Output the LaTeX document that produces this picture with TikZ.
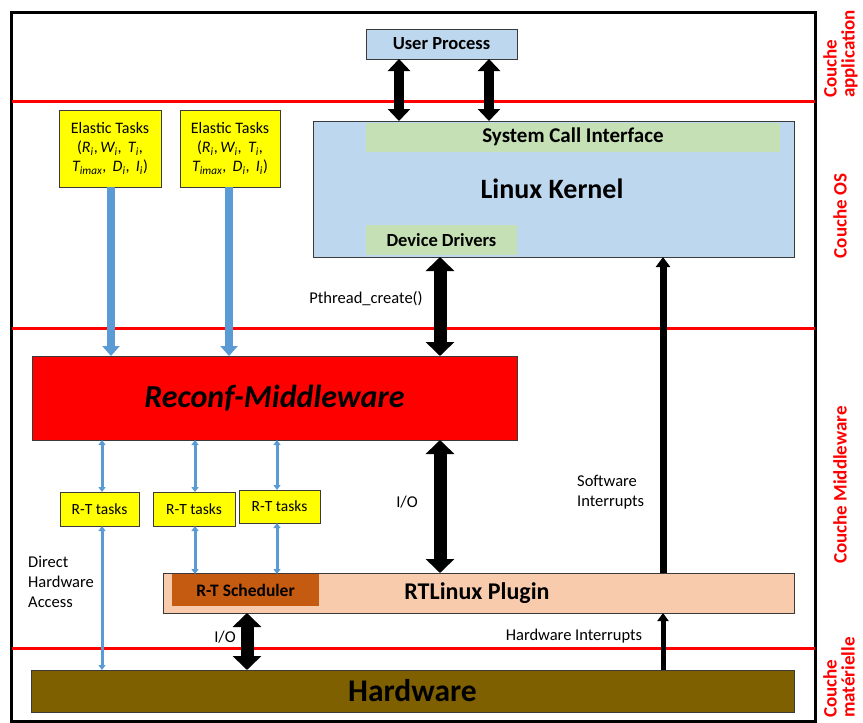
\documentclass[tikz,border=0pt]{standalone}
\usepackage{fontspec}
\setmainfont{Carlito}
\usetikzlibrary{arrows.meta}
\definecolor{lblue}{HTML}{BDD7EE}
\definecolor{lgreen}{HTML}{C5E0B4}
\definecolor{yel}{HTML}{FFFF00}
\definecolor{peach}{HTML}{F8CBAD}
\definecolor{rbrown}{HTML}{C55A11}
\definecolor{hwcol}{HTML}{7F6000}
\definecolor{barrow}{HTML}{5B9BD5}
\definecolor{bord}{HTML}{3A3A3A}
\tikzset{
  box/.style={draw=bord, line width=1pt, inner sep=0pt, outer sep=0pt, align=center},
  band/.style={inner sep=0pt, outer sep=0pt, align=center},
  fs/.style={font=\fontsize{#1}{#1}\selectfont},
  fsb/.style={font=\fontsize{#1}{#1}\selectfont\bfseries},
  bigarrow/.style={line width=10pt, {Triangle[width=22pt,length=12pt]}-{Triangle[width=22pt,length=12pt]}},
  hugearrow/.style={line width=13pt, {Triangle[width=28pt,length=14pt]}-{Triangle[width=28pt,length=14pt]}},
  bluethick/.style={barrow, line width=8pt, -{Triangle[width=17pt,length=10pt]}},
  bluethin/.style={barrow, line width=3pt, {Triangle[width=7pt,length=5pt]}-{Triangle[width=7pt,length=5pt]}},
  layerline/.style={red, line width=3pt},
  layerlab/.style={text=red, rotate=90, align=left, inner sep=0pt, font=\fontsize{19}{18}\selectfont\bfseries},
  lab/.style={inner sep=0pt, font=\fontsize{16.5}{20}\selectfont}
}
\begin{document}
\begin{tikzpicture}[x=1pt,y=-1pt]
\useasboundingbox (0,0) rectangle (863,723);
% frame
\draw[line width=3pt] (11,12) rectangle (815,721);
% layer lines
\draw[layerline] (12,101) -- (815,101);
\draw[layerline] (12,328) -- (815,328);
\draw[layerline] (12,648) -- (815,648);
% layer labels
\node[layerlab, anchor=north west] (lapp) at (823,98) {Couche\\application};
\node[layerlab] (los) at (840,216) {Couche OS};
\node[layerlab] (lmid) at (840,485) {Couche Middleware};
\node[layerlab, anchor=north west] (lmat) at (823,718) {Couche\\matérielle};
% boxes
\node[box, fill=lblue, minimum width=151pt, minimum height=30pt, fsb=18.5] (up) at (441.5,44) {User Process};
\node[box, fill=lblue, minimum width=481pt, minimum height=136pt] (lk) at (553.5,189) {};
\node[band, fill=lgreen, minimum width=414pt, minimum height=29pt, fsb=21] (sci) at (573,137) {System Call Interface};
\node[band, fsb=28] (lkt) at (552,189) {Linux Kernel};
\node[band, fill=lgreen, minimum width=151pt, minimum height=30pt, fsb=18.5] (dd) at (441.5,240) {Device Drivers};
\node[box, fill=yel, minimum width=102pt, minimum height=77pt, font=\fontsize{16}{19}\selectfont] (et1) at (110,148.5)
  {Elastic Tasks\\(\textit{R\textsubscript{i}},\,\textit{W\textsubscript{i}},\, \textit{T\textsubscript{i}},\\\textit{T\textsubscript{imax}},\, \textit{D\textsubscript{i}},\, \textit{I\textsubscript{i}})};
\node[box, fill=yel, minimum width=100pt, minimum height=77pt, font=\fontsize{16}{19}\selectfont] (et2) at (230,148.5)
  {Elastic Tasks\\(\textit{R\textsubscript{i}},\,\textit{W\textsubscript{i}},\, \textit{T\textsubscript{i}},\\\textit{T\textsubscript{imax}},\, \textit{D\textsubscript{i}},\, \textit{I\textsubscript{i}})};
\node[box, fill=red, minimum width=485pt, minimum height=84pt, font=\fontsize{32}{32}\selectfont\bfseries\itshape] (rm) at (274.5,398) {Reconf-Middleware};
\node[box, fill=yel, minimum width=79pt, minimum height=34pt, fs=15.5] (rt1) at (99.5,509) {R-T tasks};
\node[box, fill=yel, minimum width=82pt, minimum height=34pt, fs=15.5] (rt2) at (194,509) {R-T tasks};
\node[box, fill=yel, minimum width=81pt, minimum height=33pt, fs=15.5] (rt3) at (279.5,506.5) {R-T tasks};
\node[box, fill=peach, minimum width=631pt, minimum height=40pt] (rtp) at (478.5,593) {};
\node[band, fsb=24] (rtpt) at (477,593) {RTLinux Plugin};
\node[band, fill=rbrown, minimum width=147pt, minimum height=32pt, fsb=17.5] (rts) at (245.5,590) {R-T Scheduler};
\node[box, fill=hwcol, minimum width=763pt, minimum height=42pt, fsb=31.5] (hw) at (412.5,691) {Hardware};
% helper x positions
\coordinate (xa) at (399,0);
\coordinate (xb) at (489,0);
\coordinate (xc) at (440,0);
\coordinate (xd) at (247,0);
\coordinate (xs) at (663,0);
\coordinate (xe1) at (111,0);
\coordinate (xe2) at (229,0);
\coordinate (xr1) at (102,0);
\coordinate (xr2) at (195,0);
\coordinate (xr3) at (277,0);
% black arrows
\draw[bigarrow] (up.south -| xa) -- (lk.north -| xa);
\draw[bigarrow] (up.south -| xb) -- (lk.north -| xb);
\draw[hugearrow] (lk.south -| xc) -- (rm.north -| xc);
\draw[hugearrow] (rm.south -| xc) -- (rtp.north -| xc);
\draw[hugearrow] (rtp.south -| xd) -- (hw.north -| xd);
\draw[line width=7pt, -{Triangle[width=14pt,length=10pt]}] (rtp.north -| xs) -- (lk.south -| xs);
\draw[line width=5pt, -{Triangle[width=11pt,length=8pt]}] (hw.north -| xs) -- (rtp.south -| xs);
% blue arrows
\draw[bluethick] (et1.south -| xe1) -- (rm.north -| xe1);
\draw[bluethick] (et2.south -| xe2) -- (rm.north -| xe2);
\draw[bluethin] (rm.south -| xr1) -- (rt1.north -| xr1);
\draw[bluethin] (rt1.south -| xr1) -- (hw.north -| xr1);
\draw[bluethin] (rm.south -| xr2) -- (rt2.north -| xr2);
\draw[bluethin] (rt2.south -| xr2) -- (rts.north -| xr2);
\draw[bluethin] (rm.south -| xr3) -- (rt3.north -| xr3);
\draw[bluethin] (rt3.south -| xr3) -- (rts.north -| xr3);
% labels
\node[lab] (lpt) at (366,299) {Pthread\_create()};
\node[lab] (lio1) at (407,502) {I/O};
\node[lab] (lio2) at (225,637) {I/O};
\node[lab, align=left, anchor=west] (lsw) at (577,492) {Software\\Interrupts};
\node[lab] (lhi) at (574,636) {Hardware Interrupts};
\node[lab, align=left, anchor=north west] (ldha) at (28,556) {Direct\\Hardware\\Access};
\end{tikzpicture}
\end{document}
